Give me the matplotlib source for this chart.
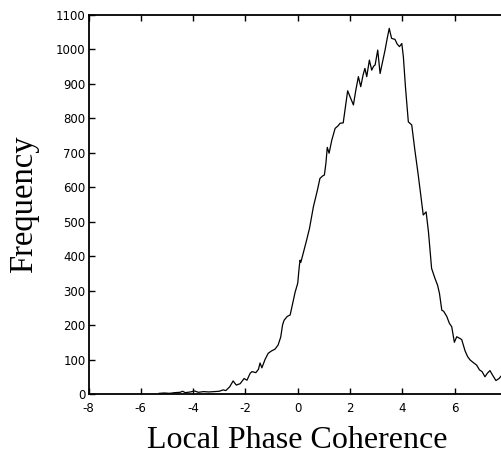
import matplotlib
matplotlib.use("Agg")
import matplotlib.pyplot as plt

# Histogram outline (bin centre, count)
coherence = [-5.3, -5.1, -4.9, -4.7, -4.5, -4.4, -4.3, -4.1, -3.95, -3.8,
             -3.6, -3.4, -3.2, -3.0, -2.85, -2.75, -2.6, -2.47, -2.35, -2.2,
             -2.05, -1.94, -1.82, -1.75, -1.6, -1.5, -1.44, -1.37, -1.25, -1.13,
             -1.0, -0.87, -0.75, -0.65, -0.58, -0.52, -0.4, -0.29, -0.2, -0.1,
             0.0, 0.06, 0.09, 0.12, 0.2, 0.34, 0.45, 0.6, 0.75, 0.85,
             0.95, 1.02, 1.08, 1.13, 1.2, 1.3, 1.43, 1.55, 1.62, 1.74,
             1.82, 1.91, 2.0, 2.13, 2.22, 2.32, 2.41, 2.5, 2.57, 2.64,
             2.74, 2.83, 2.9, 2.96, 3.06, 3.15, 3.25, 3.34, 3.42, 3.5,
             3.59, 3.72, 3.8, 3.89, 3.98, 4.04, 4.12, 4.23, 4.36, 4.48,
             4.6, 4.7, 4.8, 4.91, 5.0, 5.12, 5.25, 5.35, 5.42, 5.51,
             5.58, 5.7, 5.8, 5.89, 5.99, 6.08, 6.18, 6.27, 6.4, 6.5,
             6.59, 6.7, 6.84, 6.95, 7.05, 7.16, 7.25, 7.35, 7.45, 7.58,
             7.7, 7.81]
frequency = [2, 3, 2, 4, 5, 8, 4, 6, 9, 5,
             7, 6, 7, 8, 12, 10, 21, 38, 26, 30,
             45, 40, 60, 65, 62, 72, 90, 76, 100, 118,
             125, 130, 142, 165, 200, 214, 225, 229, 260, 295,
             321, 370, 388, 382, 405, 446, 480, 543, 590, 625,
             632, 635, 670, 715, 698, 735, 770, 778, 785, 786,
             830, 879, 862, 838, 880, 920, 891, 925, 944, 920,
             968, 939, 950, 954, 997, 929, 965, 997, 1030, 1060,
             1031, 1028, 1015, 1007, 1016, 978, 890, 789, 780, 707,
             640, 580, 519, 528, 470, 364, 335, 315, 292, 243,
             240, 225, 205, 195, 150, 166, 162, 158, 125, 108,
             99, 92, 84, 70, 65, 50, 60, 68, 55, 39,
             45, 55]

xticks = [-8, -6, -4, -2, 0, 2, 4, 6]
yticks = list(range(0, 1101, 100))

plt.rcParams['axes.unicode_minus'] = False

fig = plt.figure(figsize=(5.02, 4.55), dpi=100)
ax = fig.add_axes([0.1763, 0.134, 0.8335, 0.834])

ax.plot(coherence, frequency, color='black', linewidth=0.9)

ax.set_xlim(-8, 8)
ax.set_ylim(0, 1100)
ax.set_xticks(xticks)
ax.set_yticks(yticks)
ax.tick_params(direction='in', top=True, right=False, length=4, width=1,
               labelsize=8.5)
ax.tick_params(axis='x', pad=6)
ax.tick_params(axis='y', pad=2)

for side in ['left', 'bottom', 'top']:
    ax.spines[side].set_linewidth(1.3)
ax.spines['right'].set_visible(False)

ax.set_xlabel("Local Phase Coherence", fontsize=23, family='Liberation Serif',
              labelpad=8)
ax.set_ylabel("Frequency", fontsize=23.5, family='Liberation Serif', labelpad=12)

fig.savefig("out.png", dpi=100)
